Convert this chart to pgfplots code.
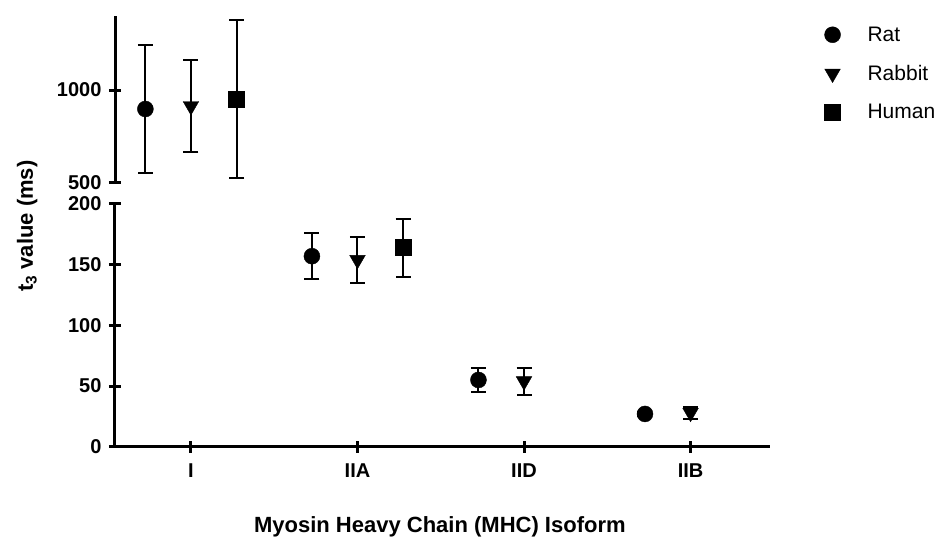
\documentclass[border=0pt]{standalone}
\usepackage{pgfplots}
\pgfplotsset{compat=1.18}
\usepackage{fontspec}
\setmainfont{Liberation Sans}

\pgfplotsset{
  brk/.style={
    scale only axis,
    width=655pt,
    xmin=-0.456, xmax=3.477,
    clip=false,
    tick style={line width=3pt, black},
    tick align=outside,
    major tick length=12pt,
    ticklabel style={font=\fontsize{20}{22}\selectfont\bfseries},
    yticklabel style={xshift=-4pt},
    xticklabel style={yshift=-8pt},
    /pgf/number format/assume math mode=true,
    /pgf/number format/1000 sep={},
    extra y tick style={tick align=center, major tick length=12pt},
    error bars/error bar style={line width=2pt},
    error bars/error mark options={line width=2pt, mark size=7.5pt, rotate=90},
  },
  nolinearrow/.style={
    axis line style={line width=3pt, -},
    every outer x axis line/.append style={-},
    every outer y axis line/.append style={-},
  },
  rat/.style={only marks, black, mark=*, mark size=8pt,
    error bars/.cd, y dir=both, y explicit},
  rabbit/.style={only marks, black, mark=triangle*, mark size=9pt,
    mark options={rotate=180},
    error bars/.cd, y dir=both, y explicit},
  human/.style={only marks, black, mark=square*, mark size=8pt,
    error bars/.cd, y dir=both, y explicit},
}

\begin{document}
\begin{tikzpicture}
\useasboundingbox (0,0) rectangle (938pt,538pt);

% upper part: 500 - 1400
\begin{axis}[brk,
  at={(115pt,355pt)}, anchor=south west,
  height=167.3pt,
  ymin=500, ymax=1400,
  axis y line=left, axis x line=none,
  nolinearrow,
  ytick={1000}, extra y ticks={500},
  legend style={draw=none, fill=none, inner sep=0pt,
    font=\fontsize{21}{23}\selectfont,
    at={(axis description cs:1.083,0.947)}, anchor=north west,
    row sep=18.5pt,
    /tikz/every odd column/.append style={column sep=25pt}},
  legend cell align=left,
]
\addplot[rat] coordinates {(-0.2736,898) +- (0,346)};
\addlegendentry{Rat}
\addplot[rabbit] coordinates {(0,914) +- (0,245)};
\addlegendentry{Rabbit}
\addplot[human] coordinates {(0.2736,950) +- (0,425)};
\addlegendentry{Human}
\end{axis}

% lower part: 0 - 200
\begin{axis}[brk,
  at={(115pt,91.3pt)}, anchor=south west,
  height=242.7pt,
  ymin=0, ymax=200,
  axis x line=bottom, axis y line=left,
  nolinearrow,
  ytick={0,50,100,150}, extra y ticks={200},
  xtick={0,1,2,3}, xticklabels={I,IIA,IID,IIB},
  xlabel={\bfseries Myosin Heavy Chain (MHC) Isoform},
  ylabel={\bfseries t\textsubscript{3} value (ms)},
  label style={font=\fontsize{22}{24}\selectfont},
  xlabel style={at={(axis description cs:0.496,-0.331)}, anchor=center},
  ylabel style={at={(axis description cs:-0.134,0.909)}, anchor=center, rotate=0},
]
\addplot[rat] coordinates {(0.7264,157) +- (0,19) (1.7264,55) +- (0,10) (2.7264,27) +- (0,2)};
\addplot[rabbit] coordinates {(1,154) +- (0,19) (2,54) +- (0,11) (3,28) +- (0,5)};
\addplot[human] coordinates {(1.2736,164) +- (0,24)};
\end{axis}
\end{tikzpicture}
\end{document}
